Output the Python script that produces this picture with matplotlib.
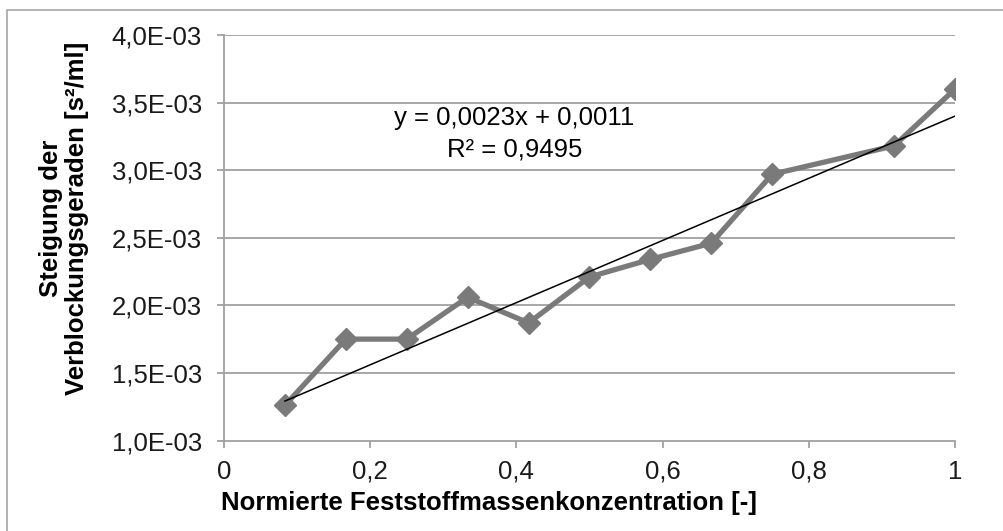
import numpy as np
import matplotlib.pyplot as plt
from matplotlib.patches import Rectangle
from matplotlib.ticker import FuncFormatter

plt.rcParams['font.family'] = ['Liberation Sans', 'DejaVu Sans']

# normierte Konzentration und Steigung der Verblockungsgeraden
konz = [1/12, 2/12, 3/12, 4/12, 5/12, 6/12, 7/12, 8/12, 9/12, 11/12, 12/12]
steigung = [1.26e-3, 1.75e-3, 1.75e-3, 2.06e-3, 1.87e-3, 2.21e-3, 2.34e-3,
            2.46e-3, 2.97e-3, 3.18e-3, 3.60e-3]

# lineare Trendlinie
slope = 0.0023
intercept = 0.0011
r2 = 0.9495

x_ticks = [0, 0.2, 0.4, 0.6, 0.8, 1.0]
y_ticks = [1.0e-3, 1.5e-3, 2.0e-3, 2.5e-3, 3.0e-3, 3.5e-3, 4.0e-3]

fs = 18.5
W, H = 1004, 531
fig = plt.figure(figsize=(W / 100, H / 100), dpi=100)
ax = fig.add_axes([224 / W, 1 - 440.5 / H, (955 - 224) / W, (440.5 - 35) / H])

# Rahmen um das Diagramm
fig.patches.append(Rectangle((7 / W, -0.1), 1.2, 1 - 10 / H + 0.1,
                             transform=fig.transFigure, fill=False,
                             edgecolor='#a6a6a6', linewidth=1.2))

grid_col = '#a0a0a0'
for yt in y_ticks[1:]:
    ax.axhline(yt, color=grid_col, linewidth=1.3, zorder=1)

ax.plot(konz, steigung, color='#7a7a7a', linewidth=3.8, marker='D',
        markersize=11, zorder=3)

xs = np.array([konz[0], konz[-1]])
ax.plot(xs, slope * xs + intercept, color='black', linewidth=1.1, zorder=4)

ax.text(0.397, 3.385e-3, 'y = 0,0023x + 0,0011', ha='center', va='center', fontsize=fs)
ax.text(0.397, 3.15e-3, 'R² = ' + f'{r2:.4f}'.replace('.', ','), ha='center',
        va='center', fontsize=fs)

ax.set_xlim(0, 1)
ax.set_ylim(1.0e-3, 4.0e-3)
ax.set_xticks(x_ticks)
ax.set_yticks(y_ticks)
ax.xaxis.set_major_formatter(FuncFormatter(lambda v, p: f'{v:g}'.replace('.', ',')))
ax.yaxis.set_major_formatter(FuncFormatter(
    lambda v, p: f'{v:.1E}'.replace('.', ',')))
ax.tick_params(axis='both', colors=grid_col, labelcolor='#1a1a1a',
               labelsize=fs, length=5, width=1.3, direction='out')
ax.tick_params(axis='x', pad=9)
ax.tick_params(axis='y', pad=11)

for side in ['top', 'right']:
    ax.spines[side].set_visible(False)
for side in ['left', 'bottom']:
    ax.spines[side].set_color(grid_col)
    ax.spines[side].set_linewidth(1.3)

# Achsentitel
fig.text(221 / W, 1 - 503 / H, 'Normierte Feststoffmassenkonzentration [-]',
         ha='left', va='center', fontsize=fs, fontweight='bold')
fig.text(64 / W, 1 - 218 / H, 'Steigung der\nVerblockungsgeraden [s²/ml]',
         rotation=90, ha='center', va='center', fontsize=fs,
         fontweight='bold', linespacing=1.1)

fig.savefig('out.png', dpi=100)
